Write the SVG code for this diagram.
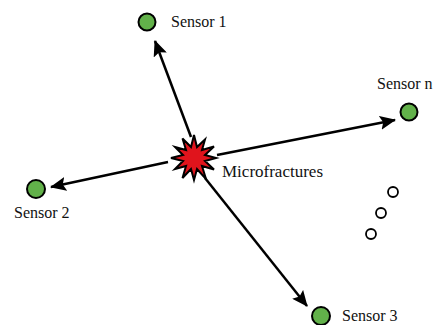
<svg xmlns="http://www.w3.org/2000/svg" width="435" height="325" viewBox="0 0 435 325">
  <style>
    .sensor { fill: #62b14a; stroke: #000; stroke-width: 2; }
    .dot { fill: #fff; stroke: #000; stroke-width: 1.8; }
    .lbl { font-family: "Liberation Serif", "Times New Roman", serif; font-size: 16px; fill: #111; }
    .wire { stroke: #000; stroke-width: 2.5; fill: none; marker-end: url(#head); }
  </style>
  <defs>
    <marker id="head" markerUnits="userSpaceOnUse" markerWidth="16" markerHeight="14" refX="15" refY="7" orient="auto">
      <path d="M0,0 L16,7 L0,14 L3,7 z" fill="#000"/>
    </marker>
  </defs>

  <g id="connectors">
    <line class="wire" x1="191" y1="137" x2="155" y2="41"/>
    <line class="wire" x1="217" y1="155" x2="395" y2="120"/>
    <line class="wire" x1="168" y1="162" x2="51" y2="187"/>
    <line class="wire" x1="205" y1="178" x2="307" y2="306"/>
  </g>

  <g id="microfractures">
    <polygon points="194,135 197,147 205,139.5 202,150 214,146.5 205,155 216,158 205,161 214,169.5 202,166 206,179 197,169 194,180 191,169 182.5,178 186,166 175,169 183,161 171,158 183,155 175,147 186,150 182.5,138.5 191,147" fill="#e0141c" stroke="#000" stroke-width="2" stroke-linejoin="miter"/>
    <text class="lbl" x="222" y="177" style="font-size:17px">Microfractures</text>
  </g>

  <g id="sensor1">
    <circle class="sensor" cx="147" cy="22" r="8.5"/>
    <text class="lbl" x="171" y="27">Sensor 1</text>
  </g>

  <g id="sensorN">
    <circle class="sensor" cx="409" cy="112" r="8.5"/>
    <text class="lbl" x="377" y="89">Sensor n</text>
  </g>

  <g id="sensor2">
    <circle class="sensor" cx="36" cy="189" r="9"/>
    <text class="lbl" x="14" y="218">Sensor 2</text>
  </g>

  <g id="sensor3">
    <circle class="sensor" cx="321" cy="316" r="9"/>
    <text class="lbl" x="342" y="321">Sensor 3</text>
  </g>

  <g id="more-sensors">
    <circle class="dot" cx="393" cy="192" r="5"/>
    <circle class="dot" cx="381" cy="213" r="5"/>
    <circle class="dot" cx="371" cy="234" r="5"/>
  </g>
</svg>
